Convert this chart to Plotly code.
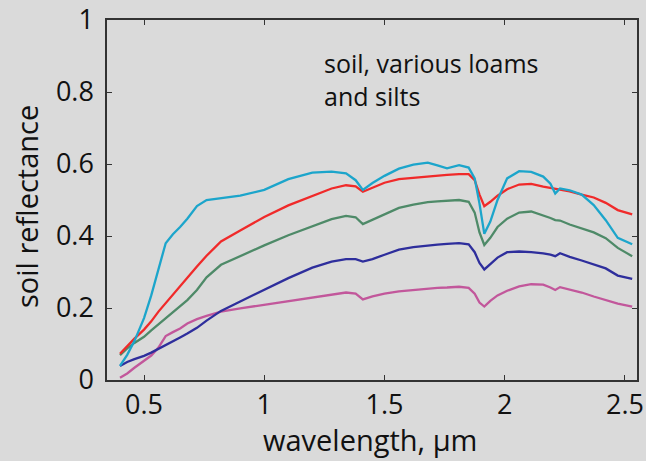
import plotly.graph_objects as go

wavelength = [0.40, 0.43, 0.46, 0.50, 0.53, 0.56, 0.59, 0.62, 0.65, 0.68, 0.72, 0.76, 0.82, 0.90,
              1.00, 1.10, 1.20, 1.28, 1.34, 1.38, 1.41, 1.45, 1.50, 1.56, 1.62, 1.68, 1.72, 1.76,
              1.81, 1.85, 1.875, 1.895, 1.915, 1.94, 1.97, 2.01, 2.06, 2.11, 2.16, 2.19, 2.21, 2.23,
              2.27, 2.32, 2.37, 2.42, 2.47, 2.53]

soil_cyan = [0.039, 0.070, 0.108, 0.172, 0.235, 0.305, 0.380, 0.405, 0.425, 0.448, 0.483, 0.500, 0.505, 0.512,
             0.528, 0.558, 0.576, 0.579, 0.574, 0.555, 0.528, 0.547, 0.567, 0.587, 0.598, 0.604, 0.596, 0.588,
             0.597, 0.590, 0.560, 0.490, 0.406, 0.440, 0.500, 0.560, 0.580, 0.578, 0.565, 0.545, 0.518, 0.532,
             0.527, 0.515, 0.486, 0.444, 0.395, 0.377]
soil_red = [0.073, 0.095, 0.115, 0.140, 0.163, 0.190, 0.214, 0.237, 0.260, 0.285, 0.315, 0.345, 0.385, 0.415,
            0.453, 0.485, 0.512, 0.532, 0.541, 0.538, 0.523, 0.535, 0.548, 0.558, 0.562, 0.566, 0.568, 0.570,
            0.572, 0.572, 0.555, 0.515, 0.483, 0.495, 0.512, 0.530, 0.543, 0.545, 0.537, 0.534, 0.532, 0.530,
            0.524, 0.515, 0.507, 0.492, 0.472, 0.460]
soil_green = [0.069, 0.088, 0.103, 0.120, 0.138, 0.155, 0.173, 0.190, 0.205, 0.222, 0.250, 0.285, 0.320, 0.345,
              0.374, 0.402, 0.428, 0.447, 0.456, 0.452, 0.433, 0.445, 0.460, 0.478, 0.487, 0.494, 0.496, 0.497,
              0.500, 0.495, 0.465, 0.410, 0.375, 0.395, 0.425, 0.448, 0.465, 0.468, 0.458, 0.450, 0.444, 0.443,
              0.432, 0.422, 0.410, 0.394, 0.367, 0.344]
soil_navy = [0.039, 0.050, 0.058, 0.067, 0.076, 0.086, 0.097, 0.108, 0.118, 0.129, 0.145, 0.165, 0.192, 0.218,
             0.250, 0.283, 0.312, 0.329, 0.336, 0.336, 0.329, 0.336, 0.348, 0.362, 0.369, 0.374, 0.376, 0.378,
             0.380, 0.377, 0.355, 0.325, 0.307, 0.322, 0.340, 0.355, 0.357, 0.355, 0.352, 0.348, 0.344, 0.352,
             0.342, 0.332, 0.320, 0.310, 0.290, 0.281]
soil_magenta = [0.006, 0.018, 0.034, 0.052, 0.068, 0.090, 0.122, 0.133, 0.143, 0.157, 0.169, 0.178, 0.190, 0.199,
                0.209, 0.220, 0.230, 0.237, 0.243, 0.240, 0.224, 0.232, 0.240, 0.246, 0.250, 0.255, 0.256, 0.257,
                0.259, 0.256, 0.240, 0.215, 0.204, 0.220, 0.235, 0.248, 0.260, 0.266, 0.265, 0.257, 0.250, 0.258,
                0.252, 0.243, 0.232, 0.222, 0.212, 0.204]

series = [
    ("magenta", soil_magenta, "#c2579b"),
    ("navy", soil_navy, "#2e2e9c"),
    ("green", soil_green, "#4e8a68"),
    ("red", soil_red, "#f02a2a"),
    ("cyan", soil_cyan, "#1ca5cb"),
]

x_ticks = [0.5, 1, 1.5, 2, 2.5]
y_ticks = [0, 0.2, 0.4, 0.6, 0.8, 1]

fig = go.Figure()
for name, vals, col in series:
    fig.add_trace(go.Scatter(x=wavelength, y=vals, mode="lines", name=name,
                             line=dict(color=col, width=2.3), showlegend=False))

bg = "#dadada"
FONT = "Open Sans"
axis_common = dict(showline=True, linecolor="#333333", linewidth=1.5, mirror="ticks",
                   ticks="inside", ticklen=5, tickcolor="#333333", tickwidth=1.2,
                   showgrid=False, zeroline=False, automargin=False,
                   ticklabeloverflow="allow",
                   tickfont=dict(size=27, color="#111111", family=FONT))

L, R, T, B = 107, 9, 20, 81
W, H = 646, 461
pw, ph = W - L - R, H - T - B

fig.update_layout(
    width=W, height=H,
    paper_bgcolor=bg, plot_bgcolor=bg,
    margin=dict(l=L, r=R, t=T, b=B),
    font=dict(family=FONT, color="#111111"),
    xaxis=dict(range=[0.346, 2.55], tickvals=x_ticks, ticktext=[str(v) for v in x_ticks],
               **axis_common),
    yaxis=dict(range=[0, 1], tickvals=y_ticks, ticktext=["0", "0.2", "0.4", "0.6", "0.8", "1"],
               ticklabelstandoff=6, **axis_common),
    annotations=[
        dict(text="soil, various loams<br>and silts", xref="paper", yref="paper",
             x=(322 - L) / pw, y=(H - B - 44) / ph, xanchor="left", yanchor="top",
             align="left", showarrow=False,
             font=dict(size=25, color="#111111", family=FONT)),
        dict(text="wavelength, μm", xref="paper", yref="paper",
             x=(370 - L) / pw, y=(H - B - 439) / ph, xanchor="center", yanchor="middle",
             showarrow=False, font=dict(size=29, color="#111111", family=FONT)),
        dict(text="soil reflectance", xref="paper", yref="paper", textangle=-90,
             x=(27 - L) / pw, y=(H - B - 207) / ph, xanchor="center", yanchor="middle",
             showarrow=False, font=dict(size=29, color="#111111", family=FONT)),
    ],
)

fig.write_html("out.html", config={"displayModeBar": False},
               post_script="document.body.style.margin='0';document.body.style.overflow='hidden';")
